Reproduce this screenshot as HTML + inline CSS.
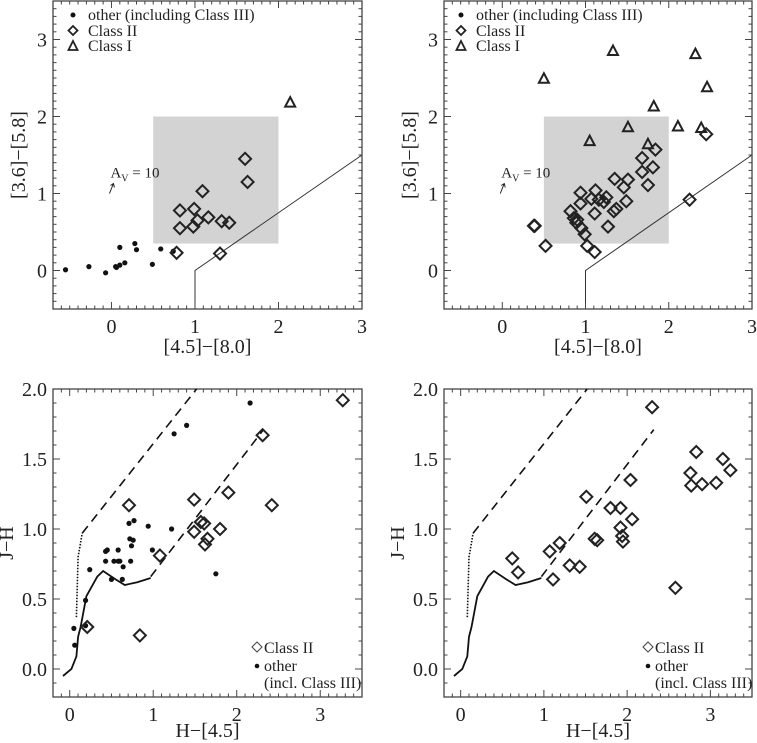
<!DOCTYPE html>
<html><head><meta charset="utf-8"><style>
html,body{margin:0;padding:0;background:#fff;}
svg{display:block;font-family:"Liberation Serif",serif;}
</style></head><body>
<svg id="fig" width="757" height="743" viewBox="0 0 757 743"></svg>
<script>
// ---- data ----
const tlDots=[[-0.55,0.01],[-0.27,0.05],[-0.07,-0.03],[0.05,0.05],[0.06,0.04],[0.1,0.3],[0.1,0.07],[0.16,0.1],[0.28,0.35],[0.3,0.27],[0.49,0.08],[0.59,0.28],[0.74,0.25]];
const tlDiamonds=[[0.78,0.23],[0.82,0.78],[0.82,0.55],[0.98,0.57],[0.99,0.8],[1.03,0.65],[1.09,1.03],[1.16,0.69],[1.32,0.64],[1.41,0.62],[1.6,1.45],[1.63,1.15],[1.3,0.22]];
const tlTriangles=[[2.14,2.18]];
const trDots=[];
const trDiamonds=[[2.45,1.77],[1.84,1.57],[1.68,1.46],[1.81,1.34],[1.68,1.28],[1.51,1.18],[1.35,1.19],[1.46,1.08],[1.75,1.11],[1.12,1.04],[0.94,1.01],[1.25,0.95],[1.07,0.93],[1.16,0.92],[1.22,0.89],[0.94,0.87],[1.49,0.9],[2.25,0.92],[1.37,0.8],[1.34,0.77],[1.11,0.74],[0.82,0.77],[0.86,0.68],[0.89,0.62],[0.9,0.66],[0.95,0.55],[0.99,0.47],[1.27,0.57],[0.38,0.58],[0.39,0.58],[0.52,0.32],[1.02,0.32],[1.11,0.24]];
const trTriangles=[[0.5,2.49],[1.33,2.85],[2.32,2.81],[2.46,2.38],[1.82,2.13],[1.51,1.86],[2.11,1.87],[2.39,1.85],[1.05,1.68],[1.75,1.64]];
const blDots=[[0.05,0.29],[0.06,0.17],[0.19,0.49],[0.19,0.31],[0.24,0.71],[0.43,0.77],[0.43,0.84],[0.45,0.85],[0.5,0.64],[0.53,0.77],[0.58,0.85],[0.58,0.77],[0.6,0.77],[0.63,0.64],[0.64,0.73],[0.71,1.04],[0.72,0.93],[0.73,0.77],[0.74,0.88],[0.76,0.92],[0.77,1.06],[0.94,1.02],[0.99,0.85],[1.22,1.0],[1.25,1.68],[1.4,1.74],[1.75,0.68],[2.16,1.9]];
const blDiamonds=[[0.21,0.3],[0.71,1.17],[0.84,0.24],[1.08,0.81],[1.49,1.21],[1.49,0.98],[1.57,1.05],[1.61,1.04],[1.65,0.93],[1.62,0.89],[1.8,1.0],[1.9,1.26],[2.31,1.67],[2.42,1.17],[3.27,1.92]];
const brDots=[];
const brDiamonds=[[0.62,0.79],[0.69,0.69],[1.07,0.84],[1.11,0.64],[1.19,0.9],[1.31,0.74],[1.43,0.73],[1.51,1.23],[1.61,0.93],[1.64,0.92],[1.8,1.15],[1.92,1.15],[1.92,1.01],[1.94,0.95],[1.95,0.91],[2.04,1.35],[2.06,1.07],[2.3,1.87],[2.58,0.58],[2.76,1.4],[2.77,1.31],[2.83,1.55],[2.9,1.32],[3.07,1.33],[3.15,1.5],[3.24,1.42]];
const stellarLocus=[[-0.08,-0.05],[0.02,0.0],[0.08,0.09],[0.1,0.23],[0.13,0.3],[0.2,0.52],[0.33,0.66],[0.4,0.7],[0.55,0.64],[0.66,0.6],[0.81,0.62],[0.97,0.65]];
const dottedLocus=[[0.08,0.37],[0.1,0.8],[0.15,0.97]];
const upperReddening=[[0.15,0.97],[1.52,2.0]];
const lowerReddening=[[0.97,0.66],[2.32,1.71]];
const irBoundary=[[1,-0.5],[1,0],[3,1.5]];
const irBox=[0.5,2.0,0.35,2.0];
const topXTicks=[0,1,2,3];
const topYTicks=[0,1,2,3];
const botXTicks=[0,1,2,3];
const botYTicks=["0.0","0.5","1.0","1.5","2.0"];

const NS="http://www.w3.org/2000/svg";
const svg=document.getElementById('fig');
function mk(tag,attrs,parent){const e=document.createElementNS(NS,tag);for(const k in attrs)e.setAttribute(k,attrs[k]);(parent||svg).appendChild(e);return e;}

function panel(o){
  const g=mk('g',{});
  
  
  const X=v=>o.x0+(v-o.xmin)/(o.xmax-o.xmin)*(o.x1-o.x0);
  const Y=v=>o.y1-(v-o.ymin)/(o.ymax-o.ymin)*(o.y1-o.y0);
  o.X=X;o.Y=Y;o.g=g;
  return o;
}
function frame(o){
  const g=o.g,X=o.X,Y=o.Y;
  const box=mk('rect',{x:o.x0,y:o.y0,width:o.x1-o.x0,height:o.y1-o.y0,fill:'none',stroke:'#444','stroke-width':1.3},g);
  
  
  for(let i=Math.ceil(o.xmin*10);i<=Math.floor(o.xmax*10);i++){
    const v=i/10,px=X(v),maj=Math.abs(v-Math.round(v))<1e-6;const L=maj?7:3.5;
    mk('line',{x1:px,y1:o.y1,x2:px,y2:o.y1-L,stroke:'#444','stroke-width':1},g);
    mk('line',{x1:px,y1:o.y0,x2:px,y2:o.y0+L,stroke:'#444','stroke-width':1},g);
  }
  for(let i=Math.ceil(o.ymin*10);i<=Math.floor(o.ymax*10);i++){
    const v=i/10,py=Y(v);const maj=Math.abs(v/o.ymaj-Math.round(v/o.ymaj))<1e-6;const L=maj?7:3.5;
    mk('line',{x1:o.x0,y1:py,x2:o.x0+L,y2:py,stroke:'#444','stroke-width':1},g);
    mk('line',{x1:o.x1,y1:py,x2:o.x1-L,y2:py,stroke:'#444','stroke-width':1},g);
  }
  o.xticks.forEach(t=>{const e=mk('text',{x:X(+t),y:o.y1+24,'text-anchor':'middle','font-size':20,fill:'#222'},g);e.textContent=t;
    });
  o.yticks.forEach(t=>{const e=mk('text',{x:o.x0-6,y:Y(+t)+7,'text-anchor':'end','font-size':20,fill:'#222'},g);e.textContent=t;
    });
  const xt=mk('text',{x:(o.x0+o.x1)/2,y:o.xtY,'text-anchor':'middle','font-size':20,fill:'#222'},g);xt.textContent=o.xtitle;
  
  const yc=(o.y0+o.y1)/2;
  const yt=mk('text',{x:o.ytX,y:yc,'text-anchor':'middle','font-size':20,fill:'#222',transform:`rotate(-90 ${o.ytX} ${yc})`},g);yt.textContent=o.ytitle;
  
}
function dots(o,arr){arr.forEach(p=>{const e=mk('circle',{cx:o.X(p[0]),cy:o.Y(p[1]),r:2.6,fill:'#111'},o.g);
  });}
function diamonds(o,arr){arr.forEach(p=>{const x=o.X(p[0]),y=o.Y(p[1]),s=6;
  const e=mk('polygon',{points:`${x},${y-s} ${x+s},${y} ${x},${y+s} ${x-s},${y}`,fill:'none',stroke:'#222','stroke-width':2},o.g);
  });}
function triangles(o,arr){arr.forEach(p=>{const x=o.X(p[0]),y=o.Y(p[1]);
  const e=mk('polygon',{points:`${x},${y-5.5} ${x+5},${y+4} ${x-5},${y+4}`,fill:'none',stroke:'#222','stroke-width':2},o.g);
  });}
function line(o,arr,attrs,name){const d=arr.map((p,i)=>(i?'L':'M')+o.X(p[0]).toFixed(1)+','+o.Y(p[1]).toFixed(1)).join('');
  const e=mk('path',Object.assign({d:d,fill:'none'},attrs),o.g);}

function topPanel(name,x0,x1,dd,di,tr,legX){
  const o=panel({name:name,x0:x0,x1:x1,y0:1,y1:309,xmin:-0.7,xmax:3.0,ymin:-0.5,ymax:3.5,ymaj:1,
    xticks:topXTicks.map(String),yticks:topYTicks.map(String),xtitle:'[4.5]\u2212[8.0]',ytitle:'[3.6]\u2212[5.8]',xtY:353,ytX:x0-28});
  const b=mk('rect',{x:o.X(irBox[0]),y:o.Y(irBox[3]),width:o.X(irBox[1])-o.X(irBox[0]),height:o.Y(irBox[2])-o.Y(irBox[3]),fill:'#d3d3d3'},o.g);
  
  line(o,irBoundary,{stroke:'#333','stroke-width':1},'extragalactic-boundary');
  frame(o);
  const ax=o.X(0),ay=o.Y(1.0);
  const ar=mk('path',{d:`M${ax-2},${ay} L${ax+2},${ay-10} M${ax-1},${ay-8} L${ax+2},${ay-10} L${ax+3},${ay-6}`,stroke:'#222',fill:'none','stroke-width':1},o.g);
  
  const at=mk('text',{x:ax-1,y:o.Y(1.21),'font-size':15,fill:'#222'},o.g);
  at.innerHTML='A<tspan font-size="10" dy="4">V</tspan><tspan dy="-4"> = 10</tspan>';
  
  dots(o,dd);diamonds(o,di);triangles(o,tr);
  const lg=mk('g',{},o.g);
  mk('circle',{cx:legX,cy:15,r:2.5,fill:'#111'},lg);
  mk('polygon',{points:`${legX},${26} ${legX+4.5},${30.5} ${legX},${35} ${legX-4.5},${30.5}`,fill:'none',stroke:'#222','stroke-width':1.8},lg);
  mk('polygon',{points:`${legX},${41} ${legX+4.5},${50} ${legX-4.5},${50}`,fill:'none',stroke:'#222','stroke-width':1.8},lg);
  [['other (including Class III)',20],['Class II',36],['Class I',51]].forEach(a=>{const e=mk('text',{x:legX+15,y:a[1],'font-size':16,fill:'#222'},lg);e.textContent=a[0];
    });
}
function botPanel(name,x0,x1,dd,di){
  const o=panel({name:name,x0:x0,x1:x1,y0:389,y1:697,xmin:-0.2,xmax:3.5,ymin:-0.2,ymax:2.0,ymaj:0.5,
    xticks:botXTicks.map(String),yticks:botYTicks,xtitle:'H\u2212[4.5]',ytitle:'J\u2212H',xtY:737,ytX:x0-40});
  frame(o);
  line(o,stellarLocus,{stroke:'#111','stroke-width':1.8},'stellar-locus');
  line(o,dottedLocus,{stroke:'#111','stroke-width':1.6,'stroke-dasharray':'1.5 1.5'},'giant-locus');
  line(o,upperReddening,{stroke:'#111','stroke-width':1.6,'stroke-dasharray':'9 6'},'upper-reddening-line');
  line(o,lowerReddening,{stroke:'#111','stroke-width':1.6,'stroke-dasharray':'9 6'},'lower-reddening-line');
  dots(o,dd);diamonds(o,di);
  const lg=mk('g',{},o.g);
  const lx=x0+204;
  mk('polygon',{points:`${lx},${642} ${lx+5},${647} ${lx},${652} ${lx-5},${647}`,fill:'none',stroke:'#444','stroke-width':1},lg);
  mk('circle',{cx:lx,cy:666,r:2.3,fill:'#111'},lg);
  [['Class II',653],['other',671],['(incl. Class III)',688]].forEach(a=>{const e=mk('text',{x:lx+7,y:a[1],'font-size':16,fill:'#222'},lg);e.textContent=a[0];
    });
}
topPanel('color-color-panel-left',53,362,tlDots,tlDiamonds,tlTriangles,73);
topPanel('color-color-panel-right',444,752,trDots,trDiamonds,trTriangles,461);
botPanel('jh-panel-left',53,362,blDots,blDiamonds);
botPanel('jh-panel-right',444,752,brDots,brDiamonds);
</script>
</body></html>
